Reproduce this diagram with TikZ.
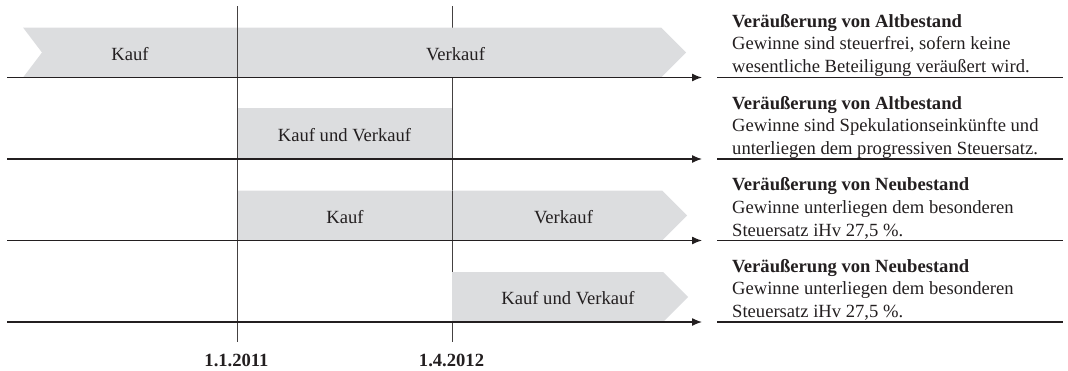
\documentclass[tikz,border=0pt]{standalone}
\usepackage{fontspec}
\setmainfont{Liberation Serif}
\usetikzlibrary{arrows.meta, positioning}
\definecolor{barfill}{RGB}{220,221,223}
\definecolor{ink}{RGB}{35,31,32}
\newcommand{\lbfont}{\fontsize{18.6}{22.6}\selectfont}

\begin{document}
\begin{tikzpicture}
		[
	x=1pt,y=-1pt,
	bar/.style={fill=barfill},
	axis/.style={draw=ink,line width=1.3pt,-{Latex[length=10pt,width=8pt]}},
	rule/.style={draw=ink,line width=1.3pt},
	tick/.style={draw=ink!85,line width=1pt},
	lbl/.style={text=ink,font=\lbfont,inner sep=0pt,anchor=base},
	note/.style={text=ink,font=\lbfont,inner sep=0pt,anchor=north west,align=left},
	date/.style={text=ink,font=\lbfont\bfseries,inner sep=0pt,anchor=base}
	]
		\useasboundingbox (0,0) rectangle (1068,370);
	
		% time marks
		\coordinate (t1top) at (237.5,6);
		\coordinate (t1bot) at (237.5,342);
		\coordinate (t2top) at (452,6);
		\coordinate (t2bot) at (452,342);
		\coordinate (t2a) at (452,190.5);
		\coordinate (t2b) at (452,240.5);
		\draw [tick] (t2top) -- (t2bot);
	
		% bars
		\fill[bar] (23,27.5) -- (661,27.5) -- (686,52.5) -- (661,77.5) -- (23,77.5) -- (42,52.5) -- cycle;
		\fill[bar] (237.5,108) rectangle (452,159);
		\fill[bar] (237.5,190.5) -- (662,190.5) -- (687,215.5) -- (662,240.5) -- (237.5,240.5) -- cycle;
		\fill[bar] (452,272) -- (663,272) -- (688,297) -- (663,322) -- (452,322) -- cycle;
	
		\draw [tick] (t1top) -- (t1bot);
		\draw [tick] (t2a) -- (t2b);
	
		\node (kauf1) [lbl] at (130,60) {Kauf};
		\node (verk1) [lbl] at (455.5,60) {Verkauf};
		\node (kuv2) [lbl] at (344.5,141.5) {Kauf und Verkauf};
		\node (kauf3) [lbl] at (345,223) {Kauf};
		\node (verk3) [lbl] at (563.5,223) {Verkauf};
		\node (kuv4) [lbl] at (568,304.5) {Kauf und Verkauf};
	
		\node (date1) [date] at (236.5,366) {1.1.2011};
		\node (date2) [date] at (451.5,366) {1.4.2012};
	
		% axes
		\coordinate (a1s) at (7,77.5);
		\coordinate (a1e) at (702,77.5);
		\coordinate (a2s) at (7,159);
		\coordinate (a2e) at (702,159);
		\coordinate (a3s) at (7,240.5);
		\coordinate (a3e) at (702,240.5);
		\coordinate (a4s) at (7,322);
		\coordinate (a4e) at (702,322);
		\draw [axis] (a1s) -- (a1e);
		\draw [axis] (a2s) -- (a2e);
		\draw [axis] (a3s) -- (a3e);
		\draw [axis] (a4s) -- (a4e);
	
		% notes
		\node (note1) [note] at (732,14) {\textbf{Veräußerung von Altbestand}\\Gewinne sind steuerfrei, sofern keine\\wesentliche Beteiligung veräußert wird.};
		\node (note2) [note] at (732,96) {\textbf{Veräußerung von Altbestand}\\Gewinne sind Spekulationseinkünfte und\\unterliegen dem progressiven Steuersatz.};
		\node (note3) [note] at (732,177.5) {\textbf{Veräußerung von Neubestand}\\Gewinne unterliegen dem besonderen\\Steuersatz iHv 27,5 \%.};
		\node (note4) [note] at (732,259) {\textbf{Veräußerung von Neubestand}\\Gewinne unterliegen dem besonderen\\Steuersatz iHv 27,5 \%.};
		\coordinate (r1s) at (717,77.5);
		\coordinate (r1e) at (1063,77.5);
		\coordinate (r2s) at (717,159);
		\coordinate (r2e) at (1063,159);
		\coordinate (r3s) at (717,240.5);
		\coordinate (r3e) at (1063,240.5);
		\coordinate (r4s) at (717,322);
		\coordinate (r4e) at (1063,322);
		\draw [rule] (r1s) -- (r1e);
		\draw [rule] (r2s) -- (r2e);
		\draw [rule] (r3s) -- (r3e);
		\draw [rule] (r4s) -- (r4e);
	\end{tikzpicture}
\end{document}
